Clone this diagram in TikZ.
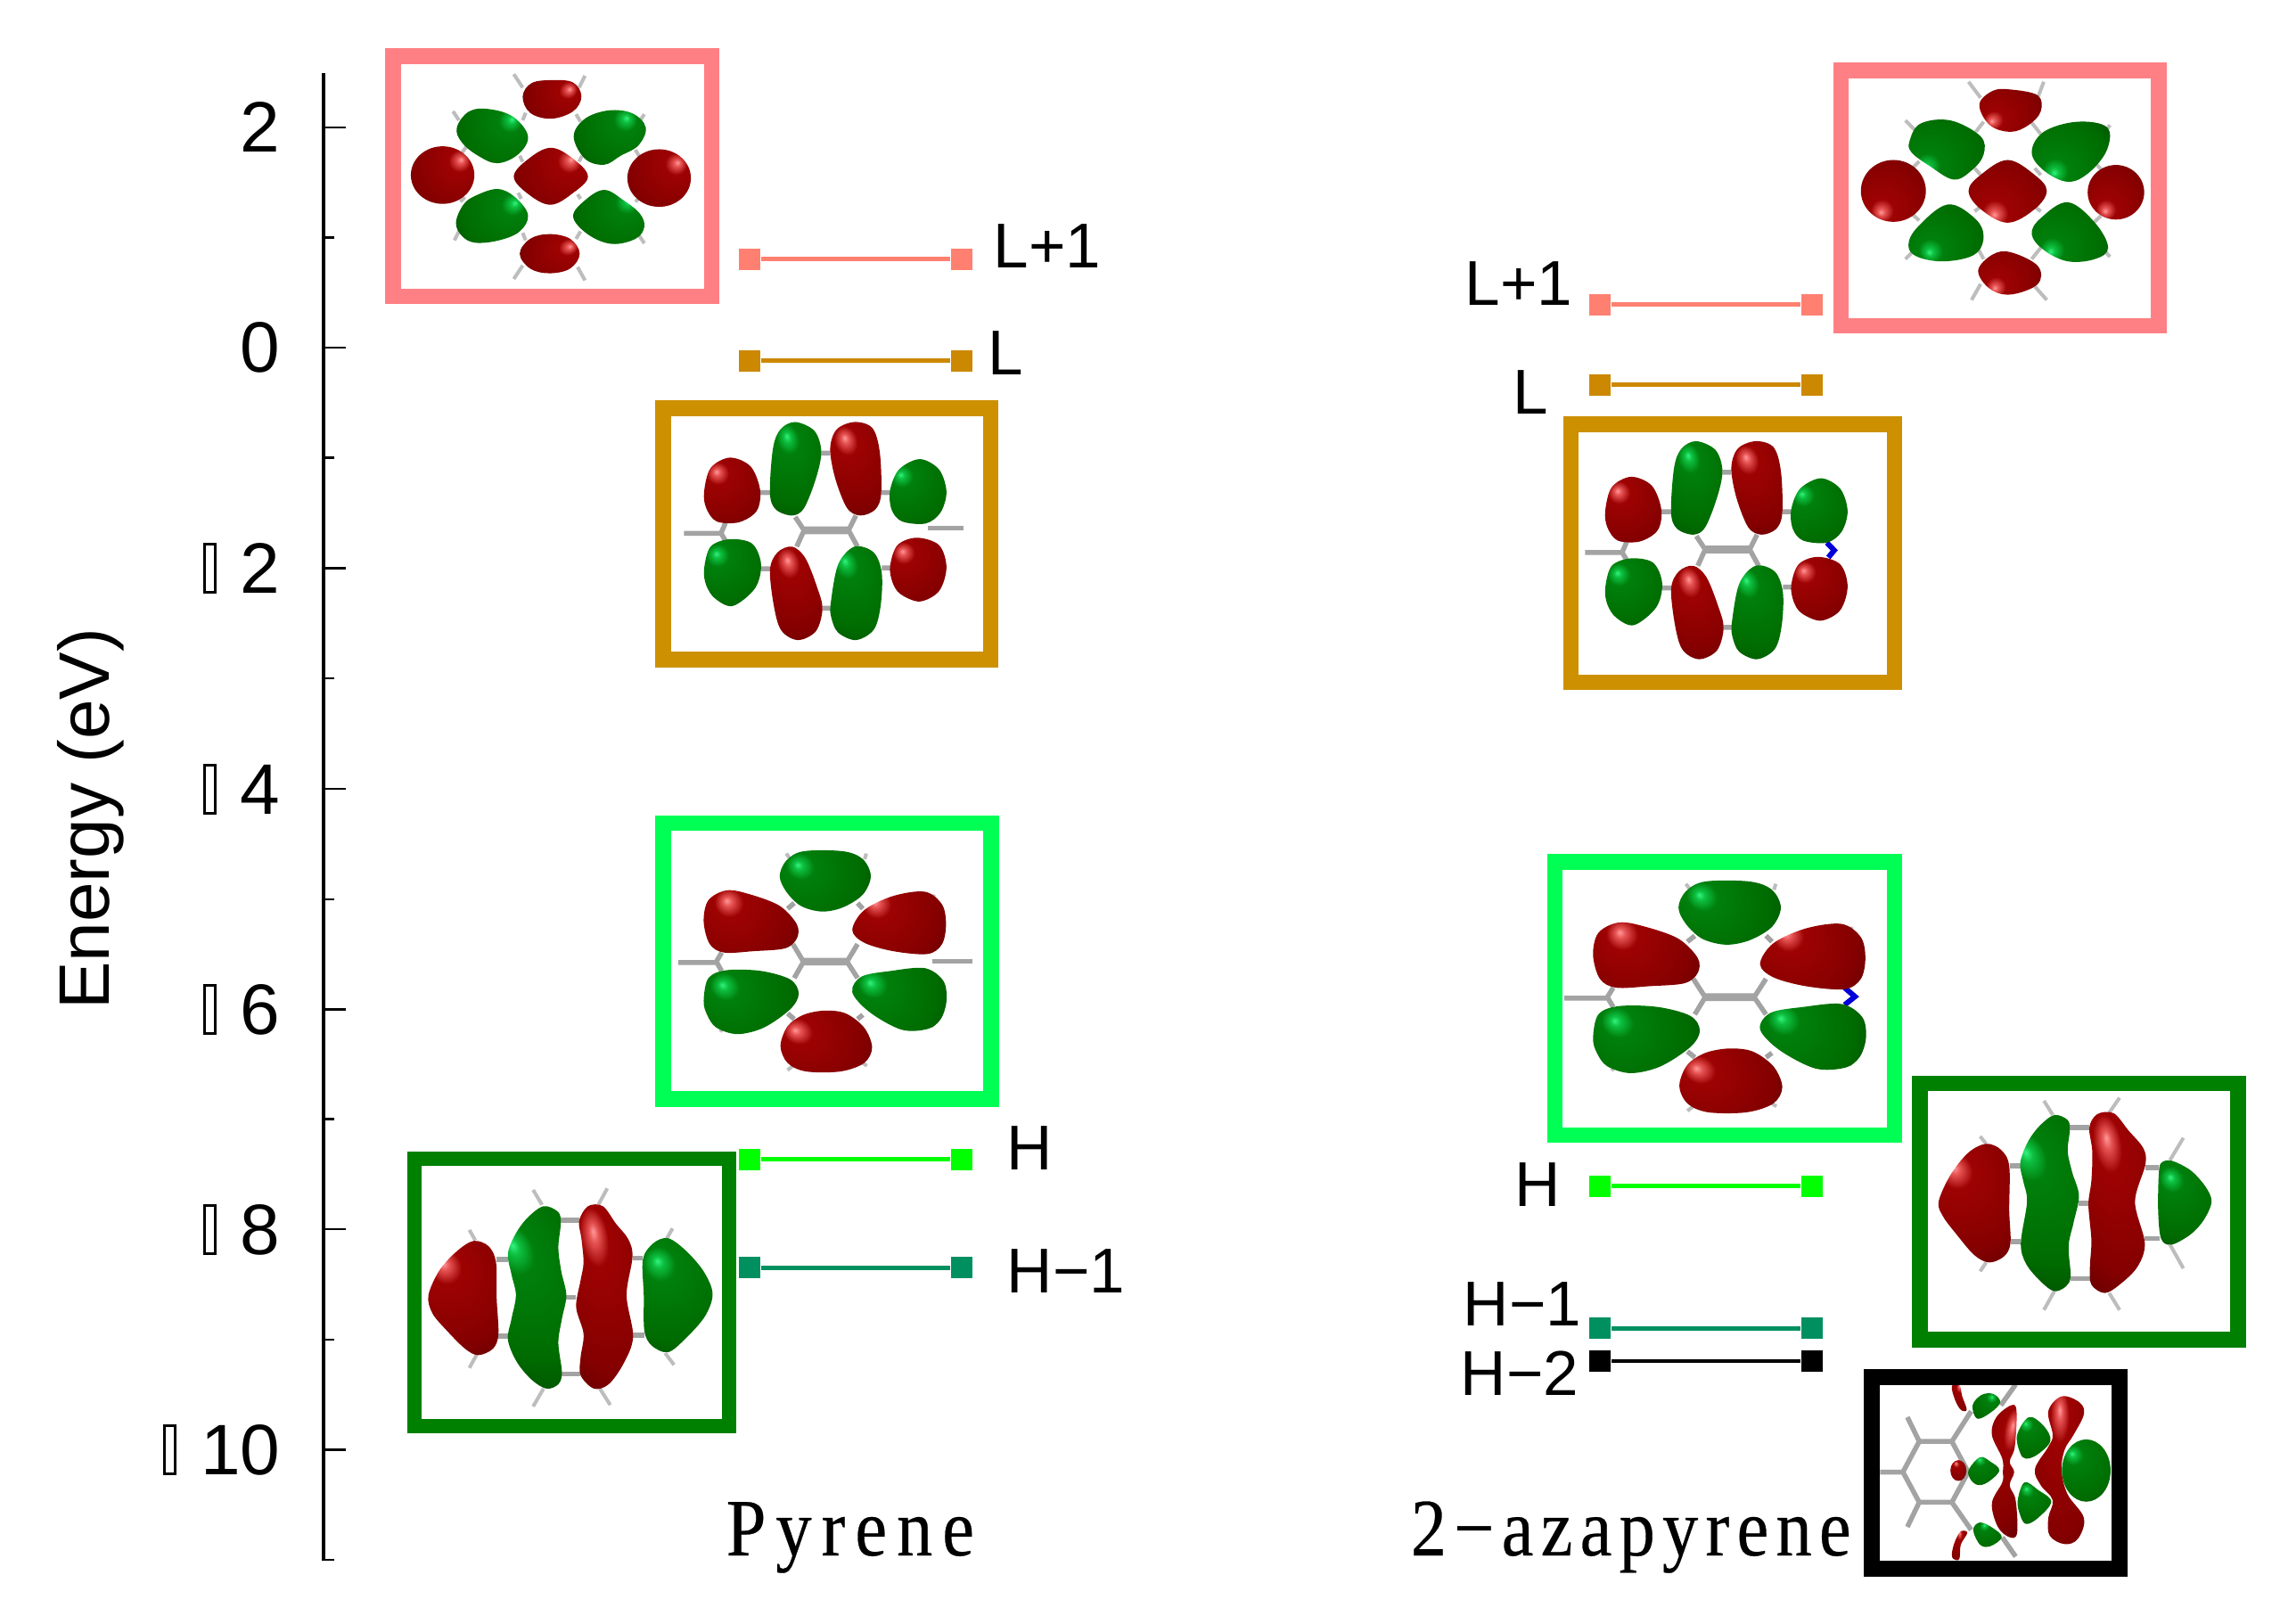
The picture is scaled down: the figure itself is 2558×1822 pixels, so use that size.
\documentclass[tikz,border=0pt]{standalone}
\usepackage{fontspec}
\setmainfont{Liberation Sans}
\newfontfamily\spacedserif[LetterSpace=12,FakeStretch=0.88,FakeBold=0.3]{Liberation Serif}
\newfontfamily\spacedserifb[LetterSpace=9,FakeStretch=0.88,FakeBold=0.3]{Liberation Serif}
\definecolor{pkbox}{HTML}{FF8084}
\definecolor{orbox}{HTML}{CC9000}
\definecolor{grbox}{HTML}{00FF55}
\definecolor{dgbox}{HTML}{008000}
\definecolor{pklv}{HTML}{FF8070}
\definecolor{orlv}{HTML}{CC8800}
\definecolor{grlv}{HTML}{00FF00}
\definecolor{tllv}{HTML}{009060}
\pgfdeclareradialshading{redlobe}{\pgfpoint{0bp}{20bp}}{rgb(0bp)=(1,.6,.6);rgb(3bp)=(.9,.32,.32);rgb(9bp)=(.62,.01,.01);rgb(35bp)=(.52,0,0);rgb(58bp)=(.3,0,0);rgb(78bp)=(.14,0,0);rgb(100bp)=(.1,0,0)}
\pgfdeclareradialshading{greenlobe}{\pgfpoint{0bp}{20bp}}{rgb(0bp)=(.2,.95,.5);rgb(3bp)=(.05,.75,.25);rgb(9bp)=(0,.5,.05);rgb(35bp)=(0,.42,0);rgb(58bp)=(0,.24,0);rgb(78bp)=(0,.12,0);rgb(100bp)=(0,.1,0)}
\def\tens{.55}
\newcommand{\redL}[2]{\shade[shading=redlobe,shading angle=#1] plot[smooth cycle,tension=\tens] coordinates {#2};}
\newcommand{\grnL}[2]{\shade[shading=greenlobe,shading angle=#1] plot[smooth cycle,tension=\tens] coordinates {#2};}
\newcommand{\redE}[5]{\shade[shading=redlobe,shading angle=#1] (#2,#3) ellipse [x radius=#4,y radius=#5];}
\newcommand{\grnE}[5]{\shade[shading=greenlobe,shading angle=#1] (#2,#3) ellipse [x radius=#4,y radius=#5];}
\tikzset{
  bond/.style={draw=black!36,line width=.055cm},
  hbond/.style={draw=black!26,line width=.04cm},
  nbond/.style={draw=blue!85!black,line width=.06cm},
  frame/.style={draw=#1,line width=.175cm,miter limit=10},
  lm/.style={rectangle,fill=#1,inner sep=0pt,minimum size=.24cm},
  lv/.style={draw=#1,line width=.05cm},
  axisline/.style={draw=black,line width=.04cm},
  majortick/.style={draw=black,line width=.028cm},
  minortick/.style={draw=black,line width=.024cm},
  numtxt/.style={anchor=base east,inner sep=0pt,font=\fontsize{22.8}{24}\selectfont},
  lvtxt/.style={anchor=base west,inner sep=0pt,font=\fontsize{20.2}{22}\selectfont},
  missing/.style={draw=black,line width=.03cm}
}
% shared lobes of the L orbital
\newcommand{\orbL}{%
\draw[bond] (25,405)--(150,405) (430,390)--(580,390) (430,400)--(580,400) (400,350)--(430,395)--(405,450) (605,345)--(580,395)--(610,450) (165,370)--(150,405)--(165,430) (282,268)--(315,268) (690,268)--(722,268) (285,525)--(315,525) (692,522)--(722,522) (488,135)--(518,135) (492,658)--(520,658);
\redL{40}{(93,265)(115,185)(180,150)(250,180)(282,260)(270,330)(210,368)(135,365)(100,320)}
\grnL{15}{(315,270)(325,120)(350,55)(400,30)(465,60)(488,130)(470,220)(430,320)(390,345)(335,325)}
\redL{20}{(518,120)(540,55)(600,30)(660,50)(685,130)(690,270)(670,325)(620,345)(575,320)(535,220)}
\grnL{45}{(720,260)(750,190)(820,155)(885,190)(910,265)(890,335)(840,372)(760,365)(725,325)}
\grnL{40}{(93,525)(115,450)(180,425)(255,440)(285,510)(265,590)(190,650)(130,625)(100,580)}
\redL{15}{(315,530)(340,470)(390,450)(435,490)(475,590)(492,660)(470,735)(410,765)(355,735)(330,660)}
\grnL{20}{(520,640)(545,510)(600,450)(665,470)(692,540)(688,650)(665,730)(605,765)(545,740)(522,690)}
\redL{40}{(720,515)(745,445)(810,420)(885,445)(910,520)(885,600)(820,635)(755,610)(728,570)}}
% shared lobes of the H orbital
\newcommand{\orbH}{%
\draw[bond] (15,435)--(160,435) (490,427)--(655,427) (490,437)--(655,437) (450,370)--(490,432)--(455,490) (695,370)--(655,432)--(695,490) (180,400)--(160,432)--(180,465) (430,245)--(455,225) (715,245)--(695,225) (430,615)--(455,635) (715,620)--(695,635);
\draw[hbond] (425,50)--(440,70) (728,50)--(722,70) (430,815)--(450,800) (730,800)--(715,790) (985,195)--(975,215) (175,680)--(185,665) (985,660)--(970,650);
\grnL{60}{(400,130)(425,75)(490,42)(640,42)(715,70)(745,130)(715,195)(640,240)(560,255)(480,235)(425,185)}
\redL{50}{(112,290)(130,215)(200,180)(290,195)(400,235)(465,300)(465,350)(420,385)(300,395)(190,400)(135,370)}
\redL{50}{(675,320)(720,250)(830,200)(950,185)(1015,230)(1030,300)(1015,370)(960,405)(830,395)(720,365)}
\grnL{60}{(112,570)(130,490)(200,462)(330,465)(440,495)(472,545)(440,600)(340,665)(240,688)(160,665)(125,620)}
\grnL{60}{(675,540)(710,485)(820,465)(950,455)(1020,500)(1032,570)(1010,635)(960,670)(860,672)(740,610)}
\redL{70}{(403,730)(430,660)(490,620)(570,605)(650,615)(720,665)(750,735)(720,790)(630,820)(500,820)(430,790)}}
\begin{document}
\begin{tikzpicture}[x=.01cm,y=-.01cm]
\useasboundingbox (0,0) rectangle (2558,1822);
\fill[white] (0,0) rectangle (2558,1822);

% ---------- axis
\coordinate (axT) at (362.5,82);
\coordinate (axB) at (362.5,1751);
\draw[axisline] (axT) -- (axB);
\foreach \yy in {143,390,637.5,885,1132.5,1379,1626.5}{\draw[majortick] (362.5,\yy) -- (388,\yy);}
\foreach \yy in {266.5,513.5,761,1009,1255.5,1503,1750}{\draw[minortick] (362.5,\yy) -- (375,\yy);}
\node[numtxt] (n2) at (315,171) {2};
\node[numtxt] (n0) at (315,418) {0};
\node[numtxt] (m2) at (315,665.5) {2};
\node[numtxt] (m4) at (315,913) {4};
\node[numtxt] (m6) at (315,1160.5) {6};
\node[numtxt] (m8) at (315,1407) {8};
\node[numtxt] (m10) at (315,1654.5) {10};
\foreach \yy in {637.5,885,1132.5,1379}{\draw[missing] (229.5,\yy-27) rectangle (241,\yy+27);}
\draw[missing] (184,1599.5) rectangle (196,1653.5);
\node[rotate=90,anchor=base,inner sep=0pt,font=\fontsize{22.8}{24}\selectfont] (ylab) at (122.7,919) {Energy (eV)};

% ---------- pyrene L+1 orbital
\begin{scope}[shift={(430,50)},x=.003333cm,y=-.003333cm]
\def\tens{.62}
\draw[hbond] (440,100)--(470,145) (680,105)--(660,145) (235,225)--(255,255) (880,235)--(860,265) (240,660)--(260,620) (880,670)--(860,640) (440,790)--(470,745) (680,795)--(655,750)
 (470,255)--(480,230) (650,235)--(665,260) (265,365)--(280,345) (850,355)--(865,380) (460,375)--(470,395) (670,375)--(660,395) (260,530)--(275,515) (455,500)--(465,520) (665,520)--(655,505) (850,530)--(865,515) (470,635)--(480,660) (650,655)--(665,630);
\redL{-60}{(470,175)(500,130)(570,120)(640,128)(668,175)(640,225)(565,250)(495,230)}
\grnL{-50}{(248,280)(290,225)(360,218)(440,245)(488,310)(455,370)(385,400)(320,375)(265,330)}
\grnL{-40}{(642,310)(680,250)(760,222)(840,232)(885,280)(860,340)(800,375)(745,405)(680,385)}
\redE{-50}{200}{440}{107}{97}
\redL{-50}{(440,445)(490,385)(565,348)(640,385)(690,445)(640,500)(565,540)(490,505)}
\redE{-50}{930}{450}{107}{97}
\grnL{-60}{(245,600)(270,540)(310,510)(385,487)(445,515)(488,575)(460,630)(390,660)(310,668)(265,645)}
\grnL{-50}{(640,580)(680,525)(745,490)(810,525)(865,570)(880,615)(850,655)(770,672)(690,640)}
\redL{-70}{(460,705)(495,655)(560,639)(630,655)(662,705)(630,755)(560,771)(495,755)}
\end{scope}

% ---------- pyrene L orbital
\begin{scope}[shift={(759,463.5)},x=.003333cm,y=-.003333cm]
\draw[bond] (846,388)--(969,388);
\orbL
\end{scope}

% ---------- pyrene H orbital
\begin{scope}[shift={(756.3,941.7)},x=.002953cm,y=-.003167cm]
\draw[bond] (977,430)--(1131,430);
\orbH
\end{scope}

% ---------- pyrene H-1 orbital
\begin{scope}[shift={(470,1310)},x=.003333cm,y=-.003333cm]
\draw[bond] (262,310)--(300,310) (265,568)--(300,568) (478,178)--(540,178) (480,695)--(545,695) (497,437)--(530,437) (720,305)--(755,305) (720,565)--(760,565);
\draw[hbond] (170,210)--(190,245) (855,205)--(835,240) (170,675)--(195,630) (860,665)--(830,625) (385,75)--(415,125) (635,70)--(605,125) (385,805)--(420,745) (645,800)--(610,745);
\redL{30}{(32,430)(70,345)(130,280)(185,247)(235,265)(260,320)(262,440)(268,560)(250,610)(200,632)(155,610)(90,545)(45,490)}
\grnL{25}{(300,290)(325,225)(365,170)(420,130)(470,150)(478,190)(470,270)(480,350)(497,430)(482,510)(470,590)(482,690)(470,730)(430,745)(380,715)(330,655)(300,580)(312,510)(327,430)(312,360)}
\redL{10}{(540,180)(570,130)(620,130)(665,190)(705,240)(720,300)(700,430)(722,570)(690,660)(640,730)(590,745)(545,700)(545,640)(555,560)(530,470)(545,380)(555,320)(548,240)}
\grnL{30}{(755,310)(790,255)(840,238)(900,280)(960,350)(990,425)(965,500)(900,575)(840,622)(785,600)(760,550)(758,430)}
\end{scope}

% ---------- azapyrene L+1 orbital
\begin{scope}[shift={(1500,0)},x=.006748cm,y=-.005102cm]
\def\tens{.62}
\draw[hbond] (1050,180)--(1070,215) (1175,180)--(1165,215) (945,265)--(960,285) (1285,275)--(1275,295) (945,570)--(960,550) (1285,565)--(1275,550) (1055,660)--(1070,625) (1180,660)--(1160,630) (1075,268)--(1062,290) (1155,270)--(1170,295) (955,372)--(968,355) (1270,372)--(1258,355) (955,470)--(968,485) (1270,475)--(1258,490) (1060,370)--(1070,385) (1170,385)--(1160,370) (1060,465)--(1070,455) (1170,465)--(1160,455) (1065,545)--(1075,570) (1170,545)--(1155,570);
\redL{120}{(1068,230)(1090,200)(1120,197)(1165,210)(1170,245)(1150,275)(1120,290)(1085,275)}
\grnL{130}{(952,310)(970,272)(1020,265)(1070,300)(1075,340)(1055,375)(1025,395)(985,365)(955,335)}
\grnL{140}{(1155,335)(1175,290)(1230,268)(1280,280)(1280,330)(1250,380)(1215,400)(1175,375)}
\redE{150}{925}{420}{54}{68}
\redL{150}{(1050,420)(1070,385)(1115,352)(1160,385)(1180,420)(1160,460)(1115,490)(1070,460)}
\redE{150}{1295}{423}{47}{60}
\grnL{140}{(950,540)(965,500)(1015,450)(1060,480)(1075,520)(1060,560)(1010,575)(965,565)}
\grnL{135}{(1155,515)(1170,480)(1215,445)(1260,490)(1282,545)(1260,570)(1215,575)(1175,550)}
\redL{135}{(1066,595)(1090,560)(1120,555)(1165,585)(1165,625)(1120,648)(1085,635)}
\end{scope}

% ---------- azapyrene L orbital
\begin{scope}[shift={(1770,485)},x=.003333cm,y=-.003333cm]
\draw[nbond] (840,372)--(865,398)--(845,422);
\orbL
\end{scope}

% ---------- azapyrene H orbital
\begin{scope}[shift={(1750,975)},x=.003333cm,y=-.003333cm]
\draw[nbond] (960,400)--(995,430)--(960,458);
\orbH
\end{scope}

% ---------- azapyrene H-1 orbital
\begin{scope}[shift={(2165,1225)},x=.003333cm,y=-.003333cm]
\draw[bond] (270,250)--(305,250) (272,505)--(307,505) (472,120)--(538,120) (475,630)--(540,630) (503,375)--(535,375) (727,255)--(772,255) (725,495)--(775,495);
\draw[hbond] (170,150)--(190,175) (855,155)--(810,230) (170,605)--(190,575) (855,595)--(810,515) (385,30)--(415,78) (640,20)--(605,70) (385,735)--(420,672) (640,735)--(605,678);
\redL{30}{(30,370)(70,280)(130,205)(190,175)(240,195)(268,250)(268,400)(272,510)(250,555)(200,575)(150,550)(90,480)(45,420)}
\grnL{25}{(305,240)(330,170)(370,115)(420,78)(465,95)(472,130)(465,200)(480,270)(503,350)(485,440)(468,520)(475,620)(460,655)(420,672)(375,640)(325,580)(307,510)(328,370)(315,300)}
\redL{10}{(538,120)(565,75)(620,72)(670,130)(720,190)(727,245)(692,370)(725,510)(700,590)(640,650)(590,678)(545,650)(540,590)(545,500)(535,380)(545,300)(548,200)}
\grnL{30}{(772,280)(780,240)(815,232)(880,265)(930,320)(950,370)(925,430)(880,480)(815,515)(780,495)(770,400)}
\end{scope}

% ---------- azapyrene H-2 orbital
\begin{scope}[shift={(2090,1540)},x=.003333cm,y=-.003333cm]
\def\tens{.6}
\draw[bond] (135,335)--(190,232)--(300,232)--(355,335)--(300,437)--(190,437)--cycle (58,335)--(135,335) (190,232)--(150,150) (190,437)--(150,520) (300,232)--(365,130) (465,110)--(515,40) (300,437)--(365,530) (470,555)--(515,620);
\redL{0}{(300,45)(325,42)(335,80)(350,125)(330,125)(310,90)}
\redL{0}{(300,610)(310,570)(330,535)(352,540)(330,580)(325,628)(305,628)}
\redE{20}{322}{330}{27}{35}
\grnL{-30}{(370,110)(400,75)(440,72)(463,100)(430,135)(385,155)}
\grnL{20}{(358,325)(395,285)(430,300)(460,330)(420,370)(385,378)(360,355)}
\grnL{20}{(372,530)(395,505)(440,525)(468,555)(430,585)(395,580)}
\redL{-10}{(435,210)(450,150)(500,110)(518,130)(512,250)(495,300)(510,335)(495,380)(515,430)(520,540)(495,555)(455,520)(435,440)(470,370)(472,335)(470,290)}
\grnL{30}{(520,210)(560,150)(610,180)(632,230)(590,275)(550,290)(530,270)}
\grnL{30}{(522,430)(545,370)(590,395)(635,435)(590,490)(550,510)(530,480)}
\redL{0}{(580,325)(625,250)(640,210)(625,130)(670,80)(730,100)(745,140)(710,210)(680,260)(670,330)(690,410)(745,490)(725,560)(680,578)(630,550)(625,490)(640,430)(600,380)}
\grnE{40}{753}{330}{82}{105}
\end{scope}

% ---------- frames
\draw[frame=pkbox] (441,63) rectangle (798.5,332.5);
\draw[frame=orbox] (744,458) rectangle (1111.5,740);
\draw[frame=grbox] (744,923.5) rectangle (1112,1233);
\draw[frame=dgbox,line width=.16cm] (465,1300) rectangle (818,1600);
\draw[frame=pkbox] (2065.5,79) rectangle (2422,365.5);
\draw[frame=orbox] (1762.5,476) rectangle (2125.5,765.5);
\draw[frame=grbox] (1744.5,967) rectangle (2125.7,1273.5);
\draw[frame=dgbox] (2154,1215.5) rectangle (2511,1503);
\draw[frame=black] (2100,1545) rectangle (2378,1760);

% ---------- levels, pyrene
\node[lm=pklv] (pa1) at (841,291) {}; \node[lm=pklv] (pa2) at (1079,291) {};
\node[lm=orlv] (pb1) at (841,404.6) {}; \node[lm=orlv] (pb2) at (1079,404.6) {};
\node[lm=grlv] (pc1) at (841,1300.6) {}; \node[lm=grlv] (pc2) at (1079,1300.6) {};
\node[lm=tllv] (pd1) at (841,1422) {}; \node[lm=tllv] (pd2) at (1079,1422) {};
\draw[lv=pklv] (pa1) -- (pa2);
\draw[lv=orlv] (pb1) -- (pb2);
\draw[lv=grlv] (pc1) -- (pc2);
\draw[lv=tllv] (pd1) -- (pd2);
% ---------- levels, azapyrene
\node[lm=pklv] (qa1) at (1795,342) {}; \node[lm=pklv] (qa2) at (2033,342) {};
\node[lm=orlv] (qb1) at (1795,432) {}; \node[lm=orlv] (qb2) at (2033,432) {};
\node[lm=grlv] (qc1) at (1795,1330.6) {}; \node[lm=grlv] (qc2) at (2033,1330.6) {};
\node[lm=tllv] (qd1) at (1795,1490) {}; \node[lm=tllv] (qd2) at (2033,1490) {};
\node[lm=black] (qe1) at (1795,1527) {}; \node[lm=black] (qe2) at (2033,1527) {};
\draw[lv=pklv] (qa1) -- (qa2);
\draw[lv=orlv] (qb1) -- (qb2);
\draw[lv=grlv] (qc1) -- (qc2);
\draw[lv=tllv] (qd1) -- (qd2);
\draw[lv=black,line width=.04cm] (qe1) -- (qe2);

% ---------- level labels
\node[lvtxt] (tpa) at (1114,301) {L+1};
\node[lvtxt] (tpb) at (1108,421) {L};
\node[lvtxt] (tpc) at (1129,1312) {H};
\node[lvtxt] (tpd) at (1129,1450) {H−1};
\node[lvtxt] (tqa) at (1643,343) {L+1};
\node[lvtxt] (tqb) at (1697,465) {L};
\node[lvtxt] (tqc) at (1699,1353) {H};
\node[lvtxt] (tqd) at (1641,1487) {H−1};
\node[lvtxt] (tqe) at (1638,1565) {H−2};

% ---------- molecule names
\node[anchor=base west,inner sep=0pt,font=\spacedserif\fontsize{26}{28}\selectfont] (pyr) at (814,1745) {Pyrene};
\node[anchor=base west,inner sep=0pt,font=\spacedserifb\fontsize{26}{28}\selectfont] (aza) at (1582,1745) {2−azapyrene};
\end{tikzpicture}
\end{document}
